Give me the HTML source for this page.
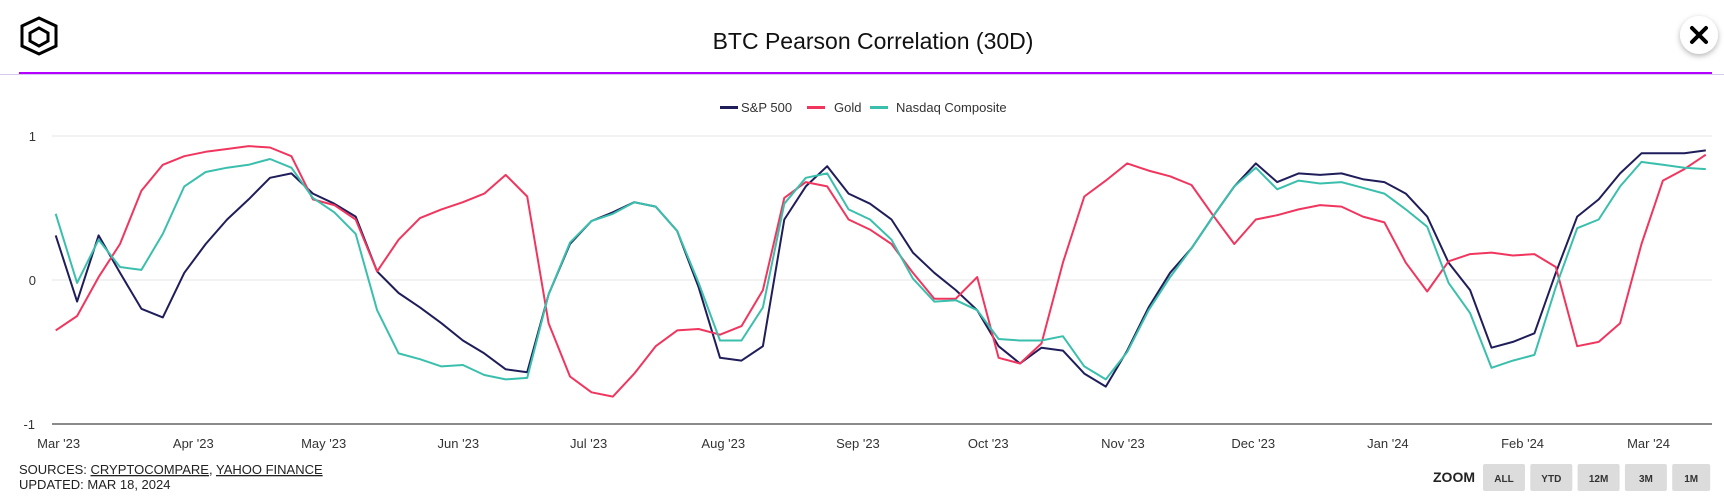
<!DOCTYPE html>
<html><head><meta charset="utf-8"><style>
html,body{margin:0;padding:0;background:#fff;}
body{width:1724px;height:496px;overflow:hidden;font-family:"Liberation Sans Narrow","Liberation Sans",sans-serif;}
svg text{font-family:"Liberation Sans Narrow","Liberation Sans",sans-serif;}
</style></head><body>
<svg id="chart" width="1724" height="496" viewBox="0 0 1724 496" xmlns="http://www.w3.org/2000/svg">
<defs><filter id="sh" x="-50%" y="-50%" width="200%" height="200%"><feDropShadow dx="0" dy="2" stdDeviation="3" flood-color="#000" flood-opacity="0.3"/></filter></defs>
<g>
<path d="M22 26 L39 18 L56 26 L56 46 L39 54 L22 46 Z" fill="none" stroke="#000" stroke-width="3"/>
<path d="M30 33 L39 28 L48 33 L48 41 L39 46 L30 41 Z" fill="none" stroke="#000" stroke-width="3"/>
</g>
<text x="873" y="49" font-size="23" text-anchor="middle" fill="#111" style="font-family:'Liberation Sans',sans-serif">BTC Pearson Correlation (30D)</text>
<rect x="19" y="72" width="1693" height="2" fill="#b400ff"/>
<rect x="0" y="74" width="1724" height="1" fill="#d8c8f0"/>
<g>
<circle cx="1699" cy="35" r="19" fill="#fff" filter="url(#sh)"/>
<path d="M1692 28 L1706 42 M1706 28 L1692 42" stroke="#000" stroke-width="4" stroke-linecap="round"/>
</g>
<g font-size="13" fill="#333">
<g><rect x="720" y="106" width="18" height="3" fill="#1f1d5a"/><text x="741" y="112">S&amp;P 500</text></g>
<g><rect x="807" y="106" width="18" height="3" fill="#f0365e"/><text x="834" y="112">Gold</text></g>
<g><rect x="870" y="106" width="18" height="3" fill="#3bbfad"/><text x="896" y="112">Nasdaq Composite</text></g>
</g>
<g id="grid"></g>
<g id="axes"></g>
<g id="series"></g>
<g font-size="13" fill="#222">
<text x="19" y="474">SOURCES: <tspan text-decoration="underline">CRYPTOCOMPARE</tspan>, <tspan text-decoration="underline">YAHOO FINANCE</tspan></text>
<text x="19" y="489">UPDATED: MAR 18, 2024</text>
</g>
<text x="1433" y="482" font-size="14" font-weight="bold" fill="#222">ZOOM</text>
<g id="zoombtns"></g>
</svg>
<script>
const NS='http://www.w3.org/2000/svg';
const sp500=[0.31,-0.15,0.31,0.05,-0.20,-0.26,0.05,0.25,0.42,0.56,0.71,0.74,0.60,0.53,0.44,0.06,-0.09,-0.19,-0.30,-0.42,-0.51,-0.62,-0.64,-0.10,
0.25,0.41,0.47,0.54,0.51,0.34,-0.05,-0.54,-0.56,-0.46,0.42,0.65,0.79,0.60,0.53,0.42,0.19,0.05,-0.07,-0.21,-0.46,-0.58,-0.47,-0.49,-0.65,
-0.74,-0.49,-0.19,0.05,0.22,0.44,0.65,0.81,0.68,0.74,0.73,0.74,0.70,0.68,0.60,0.44,0.12,-0.07,-0.47,-0.43,-0.37,0.05,
0.44,0.56,0.74,0.88,0.88,0.88,0.90];
const gold=[-0.35,-0.25,0.02,0.25,0.62,0.80,0.86,0.89,0.91,0.93,0.92,0.86,0.56,0.52,0.42,0.06,0.28,0.43,0.49,0.54,0.60,0.73,0.58,-0.30,
-0.67,-0.78,-0.81,-0.65,-0.46,-0.35,-0.34,-0.38,-0.32,-0.07,0.57,0.68,0.65,0.42,0.35,0.25,0.05,-0.13,-0.13,0.02,-0.54,-0.58,-0.44,0.12,0.58,
0.69,0.81,0.76,0.72,0.66,0.45,0.25,0.42,0.45,0.49,0.52,0.51,0.44,0.40,0.12,-0.08,0.13,0.18,0.19,0.17,0.18,0.09,
-0.46,-0.43,-0.30,0.25,0.69,0.77,0.87];
const nasdaq=[0.46,-0.02,0.28,0.09,0.07,0.32,0.65,0.75,0.78,0.80,0.84,0.78,0.57,0.47,0.32,-0.21,-0.51,-0.55,-0.60,-0.59,-0.66,-0.69,-0.68,-0.10,
0.26,0.41,0.46,0.54,0.51,0.34,-0.02,-0.42,-0.42,-0.19,0.53,0.71,0.74,0.49,0.42,0.28,0.01,-0.15,-0.14,-0.21,-0.41,-0.42,-0.42,-0.39,-0.60,
-0.69,-0.50,-0.21,0.02,0.22,0.44,0.65,0.78,0.63,0.69,0.67,0.68,0.64,0.60,0.49,0.37,-0.02,-0.23,-0.61,-0.56,-0.52,-0.05,
0.36,0.42,0.65,0.82,0.80,0.78,0.77];
const monthLabels=["Mar '23","Apr '23","May '23","Jun '23","Jul '23","Aug '23","Sep '23","Oct '23","Nov '23","Dec '23","Jan '24","Feb '24","Mar '24"];
const monthDays=[1,32,62,93,123,154,185,215,246,276,307,338,367];
const yTicks=[1,0,-1];
const stepDays=5;
const X0=55.7, PXDAY=4.286;
function xDay(d){return X0+d*PXDAY;}
function xLabel(d){return 54.3+d*4.344;}
function xIdx(i){return xDay(i*stepDays);}
function y(v){return 280-v*144;}
const grid=document.getElementById('grid'),axes=document.getElementById('axes'),ser=document.getElementById('series');
yTicks.forEach(t=>{
  const l=document.createElementNS(NS,'line');
  
  
  l.setAttribute('x1',52);l.setAttribute('x2',1712);l.setAttribute('y1',y(t));l.setAttribute('y2',y(t));
  l.setAttribute('stroke',t===-1?'#444':'#eeeeee');l.setAttribute('stroke-width',t===-1?1.2:1.5);
  grid.appendChild(l);
  const tx=document.createElementNS(NS,'text');
  
  
  tx.setAttribute('x',t===-1?35:36);tx.setAttribute('y',y(t)+5);tx.setAttribute('font-size','13');tx.setAttribute('text-anchor','end');tx.setAttribute('fill','#333');
  tx.textContent=String(t);axes.appendChild(tx);
});
monthLabels.forEach((m,i)=>{
  const tx=document.createElementNS(NS,'text');
  
  
  tx.setAttribute('x',xLabel(monthDays[i]));tx.setAttribute('y',448);tx.setAttribute('font-size','13');tx.setAttribute('text-anchor','middle');tx.setAttribute('fill','#333');
  tx.textContent=m;axes.appendChild(tx);
});
[[sp500,'#1f1d5a','sp500-line'],[gold,'#f0365e','gold-line'],[nasdaq,'#3bbfad','nasdaq-line']].forEach(([arr,c,n])=>{
  const p=document.createElementNS(NS,'path');
  
  
  p.setAttribute('d',arr.map((v,i)=>(i?'L':'M')+xIdx(i).toFixed(1)+' '+y(v).toFixed(1)).join(' '));
  p.setAttribute('fill','none');p.setAttribute('stroke',c);p.setAttribute('stroke-width','2');p.setAttribute('stroke-linejoin','round');
  ser.appendChild(p);
});
const btns=['ALL','YTD','12M','3M','1M'];
const zb=document.getElementById('zoombtns');
btns.forEach((b,i)=>{
  const g=document.createElementNS(NS,'g');
  
  
  const r=document.createElementNS(NS,'rect');
  const bx=1483+i*47.3;
  r.setAttribute('x',bx);r.setAttribute('y',464);r.setAttribute('width',i===4?38:42);r.setAttribute('height',27);r.setAttribute('rx',2);r.setAttribute('fill','#dcdcdc');
  g.appendChild(r);
  const t=document.createElementNS(NS,'text');
  t.setAttribute('x',bx+(i===4?19:21));t.setAttribute('y',482);t.setAttribute('font-size','10');t.setAttribute('font-weight','bold');t.setAttribute('text-anchor','middle');t.setAttribute('fill','#333');
  t.textContent=b;g.appendChild(t);
  zb.appendChild(g);
});
</script>
</body></html>
